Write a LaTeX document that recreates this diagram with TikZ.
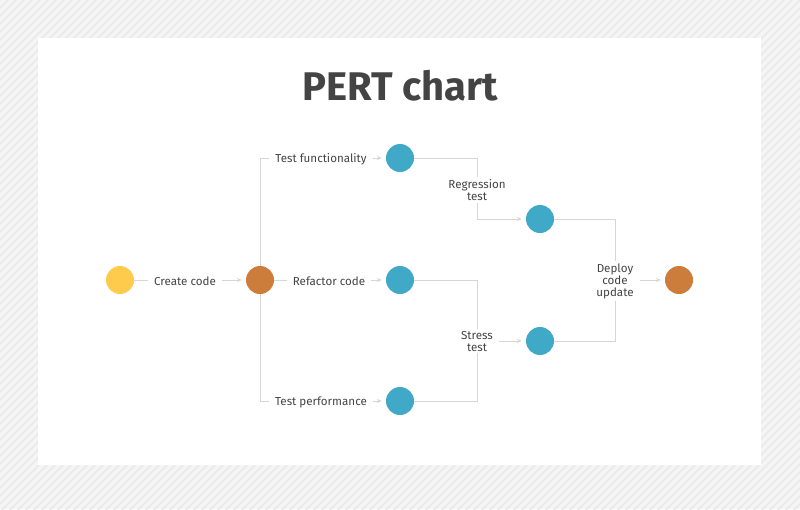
\documentclass[tikz,border=0pt]{standalone}
\usepackage{fontspec}
\setmainfont{Fira Sans}
\usetikzlibrary{arrows.meta}
\definecolor{bgstripe}{HTML}{EAEAEA}
\definecolor{bggray}{HTML}{F5F5F5}
\definecolor{linegray}{HTML}{D6D6D6}
\definecolor{txtgray}{HTML}{444444}
\definecolor{pertyellow}{HTML}{FFCB4C}
\definecolor{pertorange}{HTML}{CC7D3B}
\definecolor{pertblue}{HTML}{40A9C8}

\begin{document}
\begin{tikzpicture}[x=1pt,y=-1pt]
        \tikzset{event/.style = {shape=circle,draw=none,minimum size=28pt,inner sep=0pt}}
        \tikzset{task/.style = {fill=white,text=txtgray,font=\fontsize{11.6}{12}\selectfont,inner xsep=6pt,inner ysep=2pt,align=center}}
        \tikzset{line/.style = {draw=linegray,line width=0.8pt}}
        \tikzset{edge/.style = {line,-{Stealth[length=5pt,width=4pt]},shorten >=4pt}}
        % background
        \useasboundingbox (0,0) rectangle (800,509);
        \fill[bggray] (0,0) rectangle (800,509);
        \begin{scope}
          \clip (0,0) rectangle (800,509);
          \foreach \i in {0,8,...,1320}
            \draw[bgstripe,line width=2pt] (\i,0) -- ++(-520,520);
        \end{scope}
        \fill[white] (38,38) rectangle (761,465);
        \node[text=txtgray,font=\fontsize{40}{44}\selectfont\bfseries] (title) at (400,86) {PERT chart};
        % vertices
        \node[event,fill=pertyellow] (start) at (120,280) {};
        \node[event,fill=pertorange] (code) at (260,280) {};
        \node[event,fill=pertblue] (func) at (400,158) {};
        \node[event,fill=pertblue] (refac) at (400,280) {};
        \node[event,fill=pertblue] (perf) at (400,401) {};
        \node[event,fill=pertblue] (regr) at (540,219) {};
        \node[event,fill=pertblue] (stress) at (540,341) {};
        \node[event,fill=pertorange] (deploy) at (679,280) {};
        % tasks
        \node[task] (cc) at (185,281) {Create code};
        \node[task] (tf) at (321,159) {Test functionality};
        \node[task] (rc) at (329,281) {Refactor code};
        \node[task] (tp) at (321,402) {Test performance};
        \node[task] (rt) at (477,190) {Regression\\test};
        \node[task] (st) at (477,341) {Stress\\test};
        \node[task] (du) at (615,281) {Deploy\\code\\update};
        %edges
        \draw[line] (start) -- (start -| cc.west);
        \draw[edge] (cc.east |- code) -- (code);
        \draw[line] (code) |- (func -| tf.west);
        \draw[line] (code) -- (code -| rc.west);
        \draw[line] (code) |- (perf -| tp.west);
        \draw[edge] (tf.east |- func) -- (func);
        \draw[edge] (rc.east |- refac) -- (refac);
        \draw[edge] (tp.east |- perf) -- (perf);
        \draw[line] (func) -| (rt);
        \draw[edge] (rt) |- (regr);
        \draw[line] (refac) -| (st);
        \draw[line] (perf) -| (st);
        \draw[edge] (st.east |- stress) -- (stress);
        \draw[line] (regr) -| (du);
        \draw[line] (stress) -| (du);
        \draw[edge] (du.east |- deploy) -- (deploy);
\end{tikzpicture}
\end{document}
